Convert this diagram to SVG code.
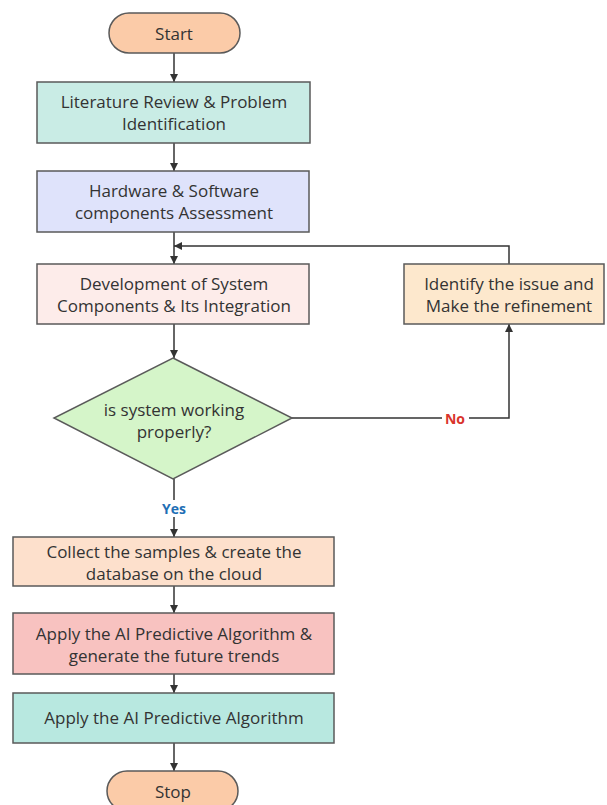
<svg xmlns="http://www.w3.org/2000/svg" width="607" height="805" viewBox="0 0 607 805">
<defs>
<marker id="ah" viewBox="0 0 10 10" refX="10" refY="5" markerWidth="8" markerHeight="8" markerUnits="userSpaceOnUse" orient="auto">
<path d="M0,0 L10,5 L0,10 z" fill="#333"/>
</marker>
</defs>
<style>
.n{stroke:#5a5a5a;stroke-width:1.5}
.t{font-family:"Open Sans","Liberation Sans",sans-serif;font-size:17px;fill:#333;text-anchor:middle}
.c{fill:none;stroke:#333;stroke-width:1.5;marker-end:url(#ah)}
.l{font-family:"Open Sans","Liberation Sans",sans-serif;font-size:14px;font-weight:bold;text-anchor:middle}
</style>
<rect width="607" height="805" fill="#fff"/>
<g id="connectors">
<line class="c" x1="174" y1="53" x2="174" y2="82"/>
<line class="c" x1="174" y1="143" x2="174" y2="171"/>
<line class="c" x1="174" y1="232" x2="174" y2="264"/>
<polyline class="c" points="509,264 509,246 174,246"/>
<line class="c" x1="174" y1="324" x2="174" y2="358"/>
<polyline class="c" points="292,418 509,418 509,324"/>
<line class="c" x1="174" y1="479" x2="174" y2="537"/>
<line class="c" x1="174" y1="586" x2="174" y2="613"/>
<line class="c" x1="174" y1="674" x2="174" y2="693"/>
<line class="c" x1="174" y1="743" x2="174" y2="771"/>
<rect x="442" y="410" width="27" height="16" fill="#fff"/>
<text class="l" x="455" y="424" fill="#d9342b">No</text>
<rect x="156" y="500" width="36" height="17" fill="#fff"/>
<text class="l" x="174" y="514" fill="#1f6fb5">Yes</text>
</g>
<g id="start">
<rect class="n" x="109" y="13" width="131" height="40" rx="20" fill="#fbcba8"/>
<text class="t" x="174" y="40">Start</text>
</g>
<g id="literature">
<rect class="n" x="37" y="82" width="273" height="61" fill="#c9ece5"/>
<text class="t" x="174" y="108">Literature Review &amp; Problem</text>
<text class="t" x="174" y="130">Identification</text>
</g>
<g id="hardware">
<rect class="n" x="37" y="171" width="272" height="61" fill="#dfe3fb"/>
<text class="t" x="174" y="197">Hardware &amp; Software</text>
<text class="t" x="174" y="219">components Assessment</text>
</g>
<g id="development">
<rect class="n" x="37" y="264" width="272" height="60" fill="#fdecea"/>
<text class="t" x="174" y="290">Development of System</text>
<text class="t" x="174" y="312">Components &amp; Its Integration</text>
</g>
<g id="identify">
<rect class="n" x="404" y="264" width="200" height="60" fill="#fde8cd"/>
<text class="t" x="509" y="290">Identify the issue and</text>
<text class="t" x="509" y="312">Make the refinement</text>
</g>
<g id="decision">
<polygon class="n" points="173,358 292,418 173,479 54,418" fill="#d5f5c9"/>
<text class="t" x="174" y="416">is system working</text>
<text class="t" x="174" y="438">properly?</text>
</g>
<g id="collect">
<rect class="n" x="13" y="537" width="321" height="49" fill="#fde0cc"/>
<text class="t" x="174" y="558">Collect the samples &amp; create the</text>
<text class="t" x="174" y="580">database on the cloud</text>
</g>
<g id="apply-trends">
<rect class="n" x="13" y="613" width="321" height="61" fill="#f8c2c0"/>
<text class="t" x="174" y="640">Apply the AI Predictive Algorithm &amp;</text>
<text class="t" x="174" y="662">generate the future trends</text>
</g>
<g id="apply">
<rect class="n" x="13" y="693" width="321" height="50" fill="#b8e8e0"/>
<text class="t" x="174" y="724">Apply the AI Predictive Algorithm</text>
</g>
<g id="stop">
<rect class="n" x="107" y="771" width="131" height="40" rx="20" fill="#fbcba8"/>
<text class="t" x="173" y="798">Stop</text>
</g>
</svg>
